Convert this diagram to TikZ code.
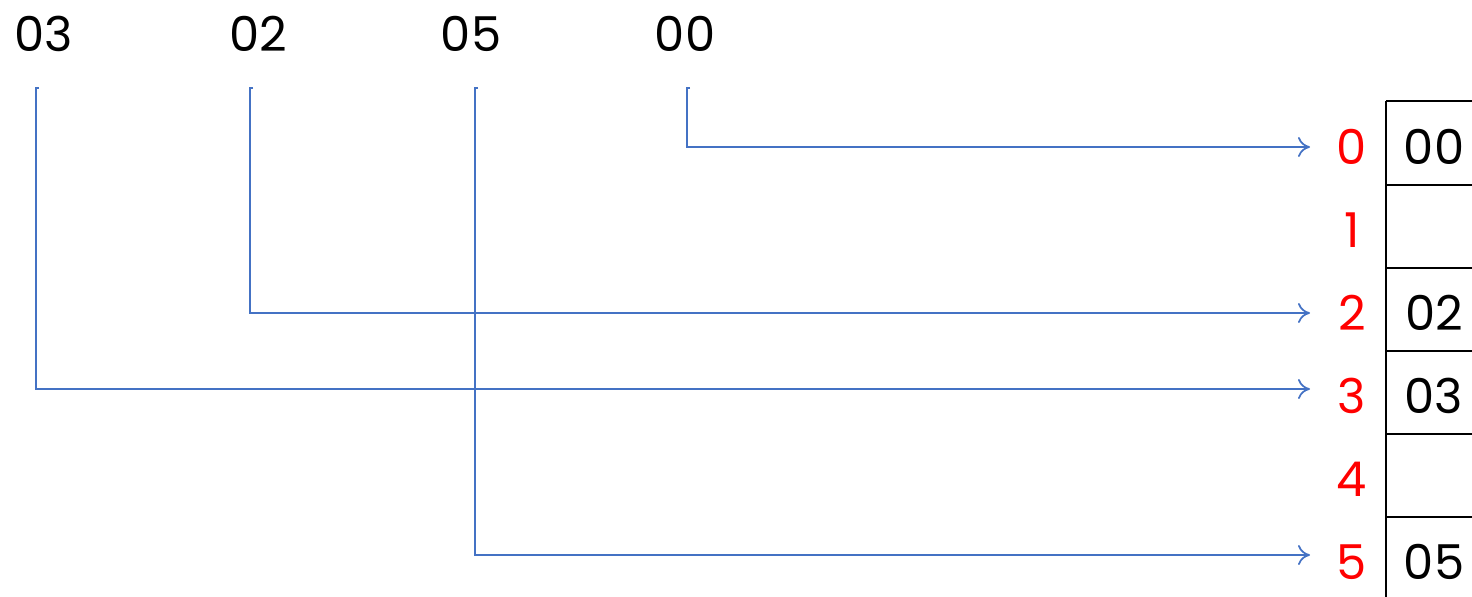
\documentclass[tikz,border=0pt]{standalone}
\usepackage{fontspec}
\setmainfont{Poppins}
\usetikzlibrary{arrows.meta}
\definecolor{linkblue}{HTML}{4472C4}
\definecolor{idxred}{HTML}{FF0000}
\tikzset{
  keylabel/.style={font=\fontsize{24}{28}\selectfont, text=black, inner sep=0pt},
  idxlabel/.style={font=\fontsize{24}{28}\selectfont, text=idxred, inner sep=0pt},
  celltext/.style={font=\fontsize{24}{28}\selectfont, text=black, inner sep=0pt},
  link/.style={draw=linkblue, line width=0.85pt, -{To[length=6pt,width=10pt]}},
  grid/.style={draw=black, line width=1.4pt}
}
\begin{document}
\begin{tikzpicture}[x=0.5pt,y=-0.5pt]
\useasboundingbox (0,0) rectangle (1472,596);
\begin{scope}
\clip (0,0) rectangle (1472,596);
% key labels
\node[keylabel] (k3) at (44,34) {03};
\node[keylabel] (k2) at (258,34) {02};
\node[keylabel] (k5) at (471,34) {05};
\node[keylabel] (k0) at (685,34) {00};
% stub starts
\coordinate (s3) at (39,88);
\coordinate (s2) at (253,88);
\coordinate (s5) at (478,88);
\coordinate (s0) at (690,88);
% index labels
\node[idxlabel] (i0) at (1352,147) {0};
\node[idxlabel] (i1) at (1352,230) {1};
\node[idxlabel] (i2) at (1352,313) {2};
\node[idxlabel] (i3) at (1352,396) {3};
\node[idxlabel] (i4) at (1352,479) {4};
\node[idxlabel] (i5) at (1352,562) {5};
% arrow ends
\coordinate (e0) at (1310,147);
\coordinate (e2) at (1310,313);
\coordinate (e3) at (1310,389);
\coordinate (e5) at (1310,555);
% table
\draw[grid] (1386,101) -- (1500,101);
\foreach \y in {185,268,351,434,517} { \draw[grid] (1386,\y) -- (1500,\y); }
\draw[grid] (1386,101) -- (1386,620);
\node[celltext] (c0) at (1434,147) {00};
\node[celltext] (c2) at (1434,313) {02};
\node[celltext] (c3) at (1434,396) {03};
\node[celltext] (c5) at (1434,562) {05};
% connectors
\draw[link] (s0) -| (687,147) -- (e0);
\draw[link] (s2) -| (250,313) -- (e2);
\draw[link] (s3) -| (36,389) -- (e3);
\draw[link] (s5) -| (475,555) -- (e5);
\end{scope}
\end{tikzpicture}
\end{document}
